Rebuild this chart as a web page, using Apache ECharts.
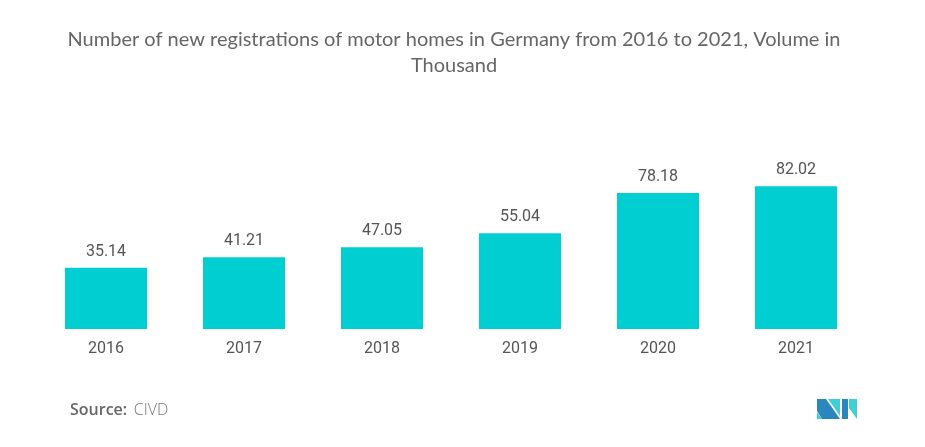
<!DOCTYPE html>
<html><head><meta charset="utf-8">
<script src="https://cdn.jsdelivr.net/npm/echarts@6/dist/echarts.min.js"></script>
<style>html,body{margin:0;padding:0;background:#fff}#c{width:925px;height:447px}</style>
</head><body><div id="c"></div>
<script>
const categories = ['2016','2017','2018','2019','2020','2021'];
const values = [35.14, 41.21, 47.05, 55.04, 78.18, 82.02];
const titleText = 'Number of new registrations of motor homes in Germany from 2016 to 2021, Volume in\nThousand';
const sourceLabel = 'Source:';
const sourceName = 'CIVD';

const chart = echarts.init(document.getElementById('c'));
chart.setOption({
  animation: false,
  title: {
    text: titleText,
    left: 449, top: 22, textAlign: 'center',
    textStyle: {fontFamily: 'Lato', fontSize: 20, fontWeight: 'normal', color: '#666', lineHeight: 26}
  },
  grid: {left: 37, right: 60, top: 155, bottom: 118},
  xAxis: {
    type: 'category', data: categories,
    axisLine: {show: false}, axisTick: {show: false},
    axisLabel: {fontFamily: 'Roboto', fontSize: 16, color: '#555', margin: 12}
  },
  yAxis: {type: 'value', min: 0, max: 100, show: false, splitLine: {show: false}},
  series: [{
    type: 'bar', data: values, barWidth: 82,
    itemStyle: {color: '#00CED1'},
    label: {show: true, position: 'top', fontFamily: 'Roboto', fontSize: 16, color: '#555', distance: 8}
  }],
  graphic: [
    {type: 'text', left: 70, top: 402, style: {
      text: '{a|' + sourceLabel + '}  {b|' + sourceName + '}',
      rich: {
        a: {fontFamily: 'Open Sans', fontSize: 16, fontWeight: 600, fill: '#666'},
        b: {fontFamily: 'Open Sans', fontSize: 16, fontWeight: 300, fill: '#777'}
      }
    }},
    {type: 'polygon', shape: {points: [[817,399],[826,399],[840,419],[822,419],[817,411]]}, style: {fill: '#2a86bd'}},
    {type: 'polygon', shape: {points: [[817,412],[822,419],[817,419]]}, style: {fill: '#3fcfd4'}},
    {type: 'polygon', shape: {points: [[828,399],[840,399],[840,416]]}, style: {fill: '#3fcfd4'}},
    {type: 'polygon', shape: {points: [[842,399],[848,399],[848,419],[842,419]]}, style: {fill: '#2a86bd'}},
    {type: 'polygon', shape: {points: [[849,399],[857,399],[857,419],[849,408]]}, style: {fill: '#3fcfd4'}}
  ]
});
</script></body></html>
